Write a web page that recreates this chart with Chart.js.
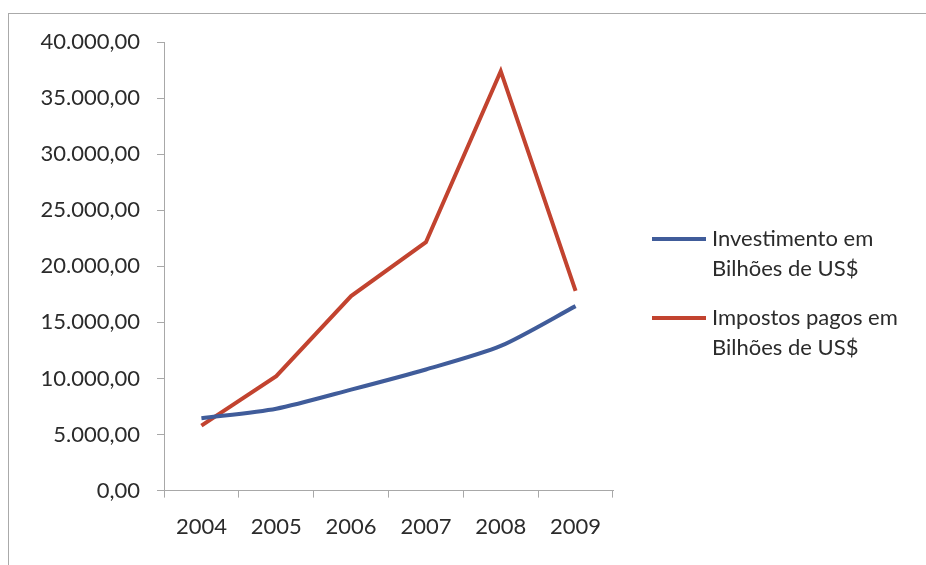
<!DOCTYPE html>
<html>
<head>
<meta charset="utf-8">
<script src="https://cdn.jsdelivr.net/npm/chart.js@4"></script>
<style>
  html, body { margin: 0; padding: 0; background: #fff; }
  #wrap { position: relative; width: 926px; height: 565px; overflow: hidden; }
  #frame { position: absolute; left: 8px; top: 13px; width: 940px; height: 600px;
           border-top: 1px solid #aaa; border-left: 1px solid #aaa; }
  canvas { position: absolute; left: 0; top: 0; }
</style>
</head>
<body>
<div id="wrap">
  <div id="frame"></div>
  <canvas id="chart" width="926" height="565"></canvas>
</div>
<script>
// data
const years = ['2004', '2005', '2006', '2007', '2008', '2009'];
const investimento = [6450, 7300, 9000, 10800, 12900, 16450];
const impostos = [5800, 10200, 17350, 22150, 37400, 17800];
const yTicks = [0, 5000, 10000, 15000, 20000, 25000, 30000, 35000, 40000];
const seriesLabels = [
    ['Investimento em', 'Bilhões de US$'],
    ['Impostos pagos em', 'Bilhões de US$']
];
const seriesColors = ['#405c9a', '#c2432f'];

const FONT = 'Lato, "Open Sans", sans-serif';
const TEXT = '#2b2b2b';
const AXIS = '#a8a8a8';

function fmtBR(v) {
    const s = Math.round(v).toString().replace(/\B(?=(\d{3})+(?!\d))/g, '.');
    return s + ',00';
}

// legend on the right, two-line labels
const sideLegend = {
    id: 'sideLegend',
    afterDraw(chart) {
        const c = chart.ctx;
        const x0 = 652, x1 = 706, tx = 712;
        const rows = [239, 318];
        c.save();
        chart.data.datasets.forEach((ds, i) => {
            const y = rows[i];
            c.strokeStyle = ds.borderColor;
            c.lineWidth = 4;
            c.beginPath();
            c.moveTo(x0, y);
            c.lineTo(x1, y);
            c.stroke();
            c.fillStyle = TEXT;
            c.font = '22px ' + FONT;
            c.textBaseline = 'middle';
            c.textAlign = 'left';
            seriesLabels[i].forEach((line, j) => c.fillText(line, tx, y + j * 30));
        });
        c.restore();
    }
};

const ctx = document.getElementById('chart').getContext('2d');
new Chart(ctx, {
    type: 'line',
    data: {
        labels: years,
        datasets: [{
            label: seriesLabels[0].join(' '),
            data: investimento,
            borderColor: seriesColors[0],
            borderWidth: 4,
            pointRadius: 0,
            tension: 0.25
        }, {
            label: seriesLabels[1].join(' '),
            data: impostos,
            borderColor: seriesColors[1],
            borderWidth: 4,
            pointRadius: 0,
            tension: 0
        }]
    },
    options: {
        responsive: false,
        animation: false,
        layout: { padding: { left: 0, right: 313, top: 42, bottom: 9 } },
        scales: {
            x: {
                offset: true,
                grid: { offset: true, drawOnChartArea: false, drawTicks: true, tickLength: 7, color: AXIS },
                border: { display: true, color: AXIS },
                ticks: { color: TEXT, font: { family: FONT, size: 22 }, padding: 16, maxRotation: 0 }
            },
            y: {
                min: 0,
                max: 40000,
                afterBuildTicks: (scale) => { scale.ticks = yTicks.map(v => ({ value: v })); },
                afterFit: (scale) => { scale.width = 164; },
                grid: { drawOnChartArea: false, drawTicks: true, tickLength: 7, color: AXIS },
                border: { display: true, color: AXIS },
                ticks: {
                    color: TEXT,
                    font: { family: FONT, size: 22 },
                    padding: 17,
                    callback: (v) => fmtBR(v)
                }
            }
        },
        plugins: {
            legend: { display: false },
            tooltip: { enabled: false }
        }
    },
    plugins: [sideLegend]
});
</script>
</body>
</html>
